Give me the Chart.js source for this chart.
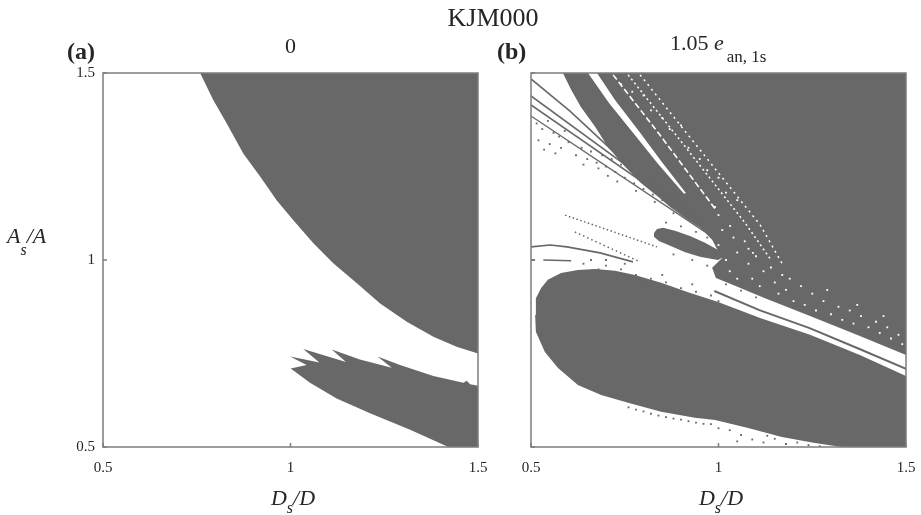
<!DOCTYPE html>
<html>
<head>
<meta charset="utf-8">
<title>KJM000</title>
<script src="https://cdn.jsdelivr.net/npm/chart.js@4.4.1/dist/chart.umd.min.js"></script>
<style>
  html, body { margin: 0; padding: 0; background: #fff; }
  body { position: relative; width: 921px; height: 515px; overflow: hidden;
         font-family: "Liberation Serif", "DejaVu Serif", serif; color: #262626; }
  .panel { position: absolute; top: 0; width: 500px; height: 515px; }
  #panelA { left: 0; }
  #panelB { left: 428px; }
  .txt { position: absolute; white-space: nowrap; line-height: 1; }
  .sub { position: relative; }
</style>
</head>
<body>
<div class="panel" id="panelA"><canvas id="chartA" width="500" height="515"></canvas></div>
<div class="panel" id="panelB"><canvas id="chartB" width="500" height="515"></canvas></div>

<div class="txt" style="left:433px;top:5px;width:120px;text-align:center;font-size:26px">KJM000</div>
<div class="txt" style="left:67px;top:38.6px;font-size:24px;font-weight:bold">(a)</div>
<div class="txt" style="left:497px;top:38.6px;font-size:24px;font-weight:bold">(b)</div>
<div class="txt" style="left:240.5px;top:34.6px;width:100px;text-align:center;font-size:22px">0</div>
<div class="txt" style="left:670px;top:31.6px;font-size:22px">1.05 <i>e</i><span class="sub" style="font-size:17px;top:12px;margin-left:3px">an, 1s</span></div>

<div class="txt" style="left:7px;top:224.6px;font-size:22px"><i>A</i><span class="sub" style="font-size:16px;top:12px;font-style:italic">s</span><i>/A</i></div>
<div class="txt" style="left:233px;top:486.6px;width:120px;text-align:center;font-size:22px"><i>D</i><span class="sub" style="font-size:16px;top:8px;font-style:italic">s</span><i>/D</i></div>
<div class="txt" style="left:661px;top:486.6px;width:120px;text-align:center;font-size:22px"><i>D</i><span class="sub" style="font-size:16px;top:8px;font-style:italic">s</span><i>/D</i></div>

<script>
// axis ticks
const tickValues = [0.5, 1, 1.5];
const tickLabels = ['0.5', '1', '1.5'];

// panel (a): regions, [Ds/D, As/A]
const aUpper = [[0.759,1.5],[0.794,1.428],[0.830,1.365],[0.874,1.285],[0.919,1.223],[0.963,1.160],
  [1.007,1.107],[1.061,1.045],[1.114,0.991],[1.177,0.938],[1.239,0.884],[1.310,0.835],[1.381,0.795],
  [1.443,0.768],[1.5,0.750],[1.5,1.5]];
const aBand = [[1.0005,0.710],[1.052,0.672],[1.123,0.630],[1.212,0.590],[1.319,0.546],[1.421,0.5],
  [1.5,0.5],[1.5,0.664],[1.479,0.668],[1.470,0.677],[1.461,0.672],[1.381,0.690],[1.292,0.719],
  [1.232,0.742],[1.270,0.712],[1.185,0.734],[1.110,0.761],[1.148,0.727],[1.034,0.762],[1.077,0.726],
  [0.999,0.742],[1.043,0.719]];

// panel (b): regions
const bUpper = [[0.585,1.5],[1.5,1.5],[1.5,0.746],[1.377,0.797],[1.244,0.850],[1.124,0.898],[1.044,0.931],
  [0.993,0.952],[0.983,0.979],[1.009,1.005],[0.983,1.054],[0.951,1.086],[0.911,1.112],[0.871,1.142],
  [0.839,1.169],[0.793,1.206],[0.751,1.249],[0.705,1.302],[0.671,1.356],[0.633,1.409],[0.607,1.455]];
const bBlob = [[0.511,0.853],[0.513,0.898],[0.527,0.925],[0.545,0.947],[0.580,0.965],[0.625,0.973],
  [0.671,0.976],[0.724,0.971],[0.777,0.960],[0.847,0.939],[0.919,0.914],[0.999,0.888],[1.111,0.845],
  [1.244,0.800],[1.377,0.746],[1.5,0.690],[1.5,0.5],[1.329,0.5],[1.257,0.511],[1.169,0.527],[1.079,0.551],
  [0.991,0.572],[0.937,0.578],[0.847,0.594],[0.759,0.618],[0.687,0.639],[0.625,0.666],[0.572,0.711],
  [0.537,0.754],[0.513,0.808]];
const bIsland = [[0.828,1.072],[0.836,1.083],[0.852,1.086],[0.884,1.078],[0.924,1.064],[0.964,1.046],
  [0.999,1.027],[1.017,1.011],[0.999,1.000],[0.953,1.008],[0.911,1.021],[0.871,1.038],[0.841,1.051],
  [0.828,1.062]];
const bStreak = [[0.652,1.5],[0.676,1.5],[0.724,1.428],[0.785,1.348],[0.849,1.262],[0.913,1.179],
  [0.908,1.177],[0.839,1.257],[0.772,1.340],[0.708,1.420]];

// panel (b): thin curves
const bLine1 = [[0.5,1.484],[0.604,1.398],[0.716,1.294]];
const bLine2 = [[0.5,1.4385],[0.924,1.128]];
const bLine3 = [[0.5,1.4145],[0.951,1.102]];
const bLine4 = [[0.5,1.385],[0.964,1.075]];
const bCurve = [[0.5,1.035],[0.551,1.040],[0.596,1.035],[0.684,1.019],[0.772,0.995]];
const bDashA = [[0.5,1.0],[0.511,1.0]];
const bDashB = [[0.533,1.0],[0.607,0.998]];
const bDotLineA = [[0.591,1.120],[0.836,1.035]];
const bDotLineB = [[0.617,1.075],[0.791,0.995]];
const bMidLine = [[0.989,0.917],[1.109,0.866],[1.243,0.818],[1.376,0.762],[1.5,0.709]];
const bWhiteLine1 = [[0.719,1.495],[0.844,1.334],[0.993,1.134]];
const bWhiteLine2 = [[0.759,1.495],[0.897,1.321],[1.071,1.099],[1.14,1.0]];
const bWhiteLine3 = [[0.791,1.495],[0.951,1.294],[1.111,1.094],[1.17,0.99]];

// panel (b): scattered grid cells
const bGrayDots = [
  [0.515,1.365],[0.53,1.35],[0.545,1.372],[0.56,1.34],[0.575,1.33],[0.59,1.345],[0.52,1.32],[0.55,1.31],
  [0.58,1.30],[0.60,1.315],[0.535,1.295],[0.565,1.285],
  [0.62,1.28],[0.635,1.30],[0.65,1.27],[0.66,1.29],[0.675,1.26],[0.69,1.28],[0.70,1.25],[0.715,1.27],
  [0.725,1.235],[0.74,1.255],[0.75,1.22],[0.765,1.24],[0.775,1.205],[0.79,1.225],[0.80,1.19],[0.815,1.21],
  [0.825,1.175],[0.84,1.195],[0.85,1.16],[0.865,1.18],[0.875,1.145],[0.89,1.165],[0.90,1.13],[0.915,1.15],
  [0.925,1.12],[0.68,1.245],[0.73,1.21],[0.78,1.185],[0.83,1.155],[0.88,1.125],[0.64,1.255],[0.705,1.225],
  [0.64,0.99],[0.66,1.0],[0.68,0.975],[0.70,0.985],[0.72,0.965],[0.74,0.975],[0.76,0.95],[0.78,0.96],
  [0.80,0.94],[0.82,0.95],[0.84,0.925],[0.86,0.94],[0.88,0.915],[0.90,0.925],[0.92,0.905],[0.94,0.915],
  [0.96,0.895],[0.98,0.905],[1.0,0.89],[0.70,1.0],[0.75,0.99],[0.85,0.96],[0.93,0.935],
  [0.86,1.10],[0.90,1.09],[0.94,1.075],[0.97,1.06],[0.88,1.015],[0.93,1.0],[0.97,0.985],
  [1.02,0.935],[1.06,0.918],[1.10,0.90],
  [0.76,0.606],[0.78,0.600],[0.80,0.595],[0.82,0.589],[0.84,0.584],[0.86,0.580],[0.88,0.576],[0.90,0.573],
  [0.92,0.569],[0.94,0.565],[0.96,0.562],[0.98,0.561],
  [1.00,0.55],[1.03,0.545],[1.06,0.532],[1.09,0.52],[1.12,0.512],[1.15,0.522],[1.18,0.508],[1.21,0.512],
  [1.24,0.505],[1.27,0.502],[1.05,0.515],[1.13,0.53]];
const bWhiteDots = [
  [0.74,1.47],[0.77,1.45],[0.80,1.44],[0.82,1.40],[0.85,1.38],[0.87,1.35],[0.90,1.36],[0.92,1.30],
  [0.95,1.27],[0.97,1.24],[1.0,1.22],[1.02,1.18],[1.05,1.16],[0.991,1.142],[1.031,1.091],[1.092,1.019],
  [1.0,1.12],[1.01,1.08],[1.0,1.04],[1.02,1.00],[1.03,0.97],[1.04,1.06],[1.05,1.02],[1.05,0.95],
  [1.07,1.05],[1.08,0.99],[1.09,0.95],[1.10,1.01],[1.11,0.93],[1.12,0.97],[1.08,1.03],
  [1.14,0.98],[1.15,0.94],[1.16,0.91],[1.17,0.96],[1.18,0.92],[1.20,0.89],[1.19,0.95],
  [1.22,0.93],[1.23,0.88],[1.25,0.91],[1.26,0.865],[1.28,0.89],[1.30,0.855],[1.29,0.92],
  [1.32,0.875],[1.33,0.84],[1.35,0.865],[1.36,0.83],[1.38,0.85],[1.40,0.82],[1.37,0.88],
  [1.42,0.835],[1.43,0.805],[1.45,0.82],[1.46,0.79],[1.48,0.80],[1.49,0.775],[1.44,0.85]];

const gray = '#686868';
const frameColor = '#7d7d7d';
const textColor = '#262626';
const tickFont = { family: '"Liberation Serif", "DejaVu Serif", serif', size: 15 };

function pts(arr) { return arr.map(p => ({ x: p[0], y: p[1] })); }
function area(data, color, order) {
  return { data: pts(data), showLine: true, fill: 'shape', backgroundColor: color, borderColor: color,
           borderWidth: 0, pointRadius: 0, order: order };
}
function line(data, color, width, dash, order) {
  return { data: pts(data), showLine: true, fill: false, borderColor: color, borderWidth: width,
           borderDash: dash || [], pointRadius: 0, order: order };
}
function dots(data, color, order) {
  return { data: pts(data), showLine: false, pointStyle: 'rect', pointRadius: 1.3,
           backgroundColor: color, borderWidth: 0, order: order };
}

const framePlugin = {
  id: 'frame',
  afterDraw(chart) {
    const { ctx, chartArea: a, scales } = chart;
    ctx.save();
    ctx.strokeStyle = frameColor;
    ctx.lineWidth = 1.5;
    ctx.strokeRect(a.left, a.top, a.width, a.height);
    ctx.beginPath();
    tickValues.forEach(v => {
      const px = scales.x.getPixelForValue(v);
      ctx.moveTo(px, a.bottom); ctx.lineTo(px, a.bottom - 4);
      const py = scales.y.getPixelForValue(v);
      ctx.moveTo(a.left, py); ctx.lineTo(a.left + 4, py);
    });
    ctx.stroke();
    ctx.restore();
  }
};

function makeOptions(showYLabels) {
  const axis = (fitFn, labels, pad) => ({
    type: 'linear', min: 0.5, max: 1.5,
    afterBuildTicks: s => { s.ticks = tickValues.map(v => ({ value: v })); },
    afterFit: fitFn,
    ticks: { display: labels, callback: v => tickLabels[tickValues.indexOf(v)], font: tickFont,
             color: textColor, padding: pad, maxRotation: 0, autoSkip: false },
    grid: { display: false, drawTicks: false },
    border: { display: false }
  });
  return {
    responsive: false, animation: false, events: [],
    layout: { padding: { top: 73, right: 22, left: 0, bottom: 0 } },
    plugins: { legend: { display: false }, tooltip: { enabled: false } },
    scales: {
      x: axis(s => { s.height = 68; }, true, 12),
      y: axis(s => { s.width = 103; }, showYLabels, 8)
    }
  };
}

new Chart(document.getElementById('chartA'), {
  type: 'scatter',
  data: { datasets: [ area(aUpper, gray, 10), area(aBand, gray, 10) ] },
  options: makeOptions(true),
  plugins: [framePlugin]
});

new Chart(document.getElementById('chartB'), {
  type: 'scatter',
  data: {
    datasets: [
      area(bUpper, gray, 10),
      area(bBlob, gray, 10),
      area(bIsland, gray, 10),
      area(bStreak, '#ffffff', 9),
      line(bLine1, gray, 1.6, [], 5),
      line(bLine2, gray, 1.6, [], 5),
      line(bLine3, gray, 1.6, [], 5),
      line(bLine4, gray, 1.4, [], 5),
      line(bCurve, gray, 1.6, [], 5),
      line(bDashA, gray, 1.6, [], 5),
      line(bDashB, gray, 1.6, [], 5),
      line(bDotLineA, gray, 1.5, [1.5, 2.5], 5),
      line(bDotLineB, gray, 1.5, [1.5, 3], 5),
      line(bMidLine, gray, 2, [], 5),
      line(bWhiteLine1, '#ffffff', 1.6, [6, 3], 4),
      line(bWhiteLine2, '#ffffff', 1.5, [2, 3], 4),
      line(bWhiteLine3, '#ffffff', 1.5, [2, 4], 4),
      dots(bGrayDots, gray, 2),
      dots(bWhiteDots, '#ffffff', 1)
    ]
  },
  options: makeOptions(false),
  plugins: [framePlugin]
});
</script>
</body>
</html>
